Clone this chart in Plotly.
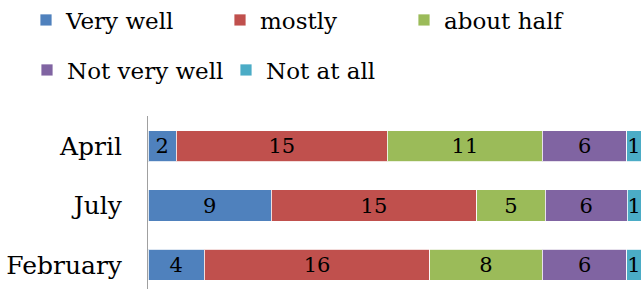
import plotly.graph_objects as go

months = ["February", "July", "April"]
series_names = ["Very well", "mostly", "about half", "Not very well", "Not at all"]
very_well = [4, 9, 2]
mostly = [16, 15, 15]
about_half = [8, 5, 11]
not_very_well = [6, 6, 6]
not_at_all = [1, 1, 1]
colors = ["#4F81BD", "#C0504D", "#9BBB59", "#8064A2", "#4BACC6"]

series_values = [very_well, mostly, about_half, not_very_well, not_at_all]

FONT = "DejaVu Serif"
W, H = 643, 289
# legend anchor (px) for each series: left x, vertical centre y
legend_pos = [(26, 20), (220, 20), (404, 20), (27, 70), (226, 70)]

fig = go.Figure()
legend_layout = {}
for i, (name, vals, col) in enumerate(zip(series_names, series_values, colors)):
    lid = "legend" if i == 0 else f"legend{i + 1}"
    fig.add_trace(go.Bar(
        y=months, x=vals, name=name, orientation="h",
        marker=dict(color=col, line=dict(color="rgba(255,255,255,0.8)", width=1)),
        text=[str(v) for v in vals], textposition="inside",
        insidetextanchor="middle", constraintext="none",
        textfont=dict(family=FONT, size=21, color="black"),
        cliponaxis=False, legend=lid, showlegend=True,
    ))
    lx, ly = legend_pos[i]
    legend_layout[lid] = dict(
        orientation="h", xref="container", yref="container",
        x=lx / W, y=1 - ly / H, xanchor="left", yanchor="middle",
        font=dict(family=FONT, size=23), bgcolor="rgba(0,0,0,0)",
    )

fig.update_layout(
    width=W, height=H, showlegend=True,
    margin=dict(l=148, r=2, t=116, b=0),
    paper_bgcolor="white", plot_bgcolor="white",
    barmode="stack", barnorm="percent", bargap=0.475,
    font=dict(family=FONT, color="black"),
    xaxis=dict(range=[0, 100], visible=False, fixedrange=True, automargin=False),
    yaxis=dict(range=[-0.407, 2.508], showline=True, linecolor="#A0A0A0",
               linewidth=1, showgrid=False, ticks="", ticklabelstandoff=20,
               tickfont=dict(family=FONT, size=25, color="black"),
               zeroline=False, automargin=False),
    **legend_layout,
)

fig.write_html("out.html", config={"displayModeBar": False},
               post_script="document.body.style.margin='0';")
